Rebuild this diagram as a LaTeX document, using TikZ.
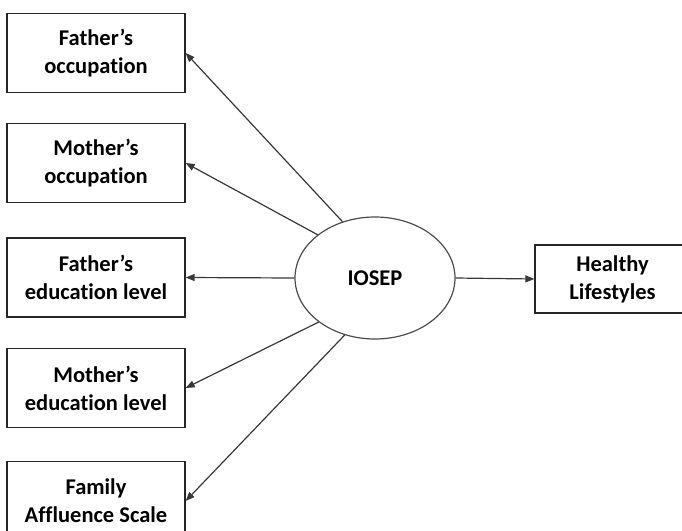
\documentclass[tikz,border=0pt]{standalone}
\usepackage{fontspec}
\setmainfont{Carlito}[Ligatures=NoCommon]
\usetikzlibrary{shapes.geometric,arrows.meta}

\tikzset{
  labelfont/.style={font=\bfseries\fontsize{22.5}{28}\selectfont},
  varbox/.style={draw=black!85, line width=1.3pt, fill=white, align=center,
    inner sep=0pt, minimum width=178pt, minimum height=79pt, labelfont},
  latent/.style={ellipse, draw=black!70, line width=1.2pt, inner sep=0pt,
    minimum width=160pt, minimum height=122pt, labelfont},
  conn/.style={draw=black!78, line width=1.2pt,
    -{Triangle[length=9pt,width=7pt]}}
}

\begin{document}
\begin{tikzpicture}[x=1pt,y=-1pt]
  \useasboundingbox (0,0) rectangle (682,530);
  \clip (0,0) rectangle (682,530);

  % indicator boxes
  \node[varbox] (b1) at (96,53)    {Father’s\\occupation};
  \node[varbox] (b2) at (96,163)   {Mother’s\\occupation};
  \node[varbox] (b3) at (96,277.5) {Father’s\\education level};
  \node[varbox] (b4) at (96,388)   {Mother’s\\education level};
  \node[varbox] (b5) at (96,501)   {Family\\Affluence Scale};

  % latent construct
  \node[latent] (e) at (375,278) {IOSEP};

  % outcome
  \node[varbox, minimum width=155pt, minimum height=68pt, text width=155pt]
    (hl) at (612.5,279) {Healthy\\Lifestyles};

  % loadings
  \draw[conn] (e.120) -- (b1.east);
  \draw[conn] (e.143) -- (b2.east);
  \draw[conn] (e.west) -- (b3.east);
  \draw[conn] (e.218) -- (b4.east);
  \draw[conn] (e.242) -- (b5.east);

  % path to outcome
  \draw[conn] (e.east) -- (hl.west);
\end{tikzpicture}
\end{document}
